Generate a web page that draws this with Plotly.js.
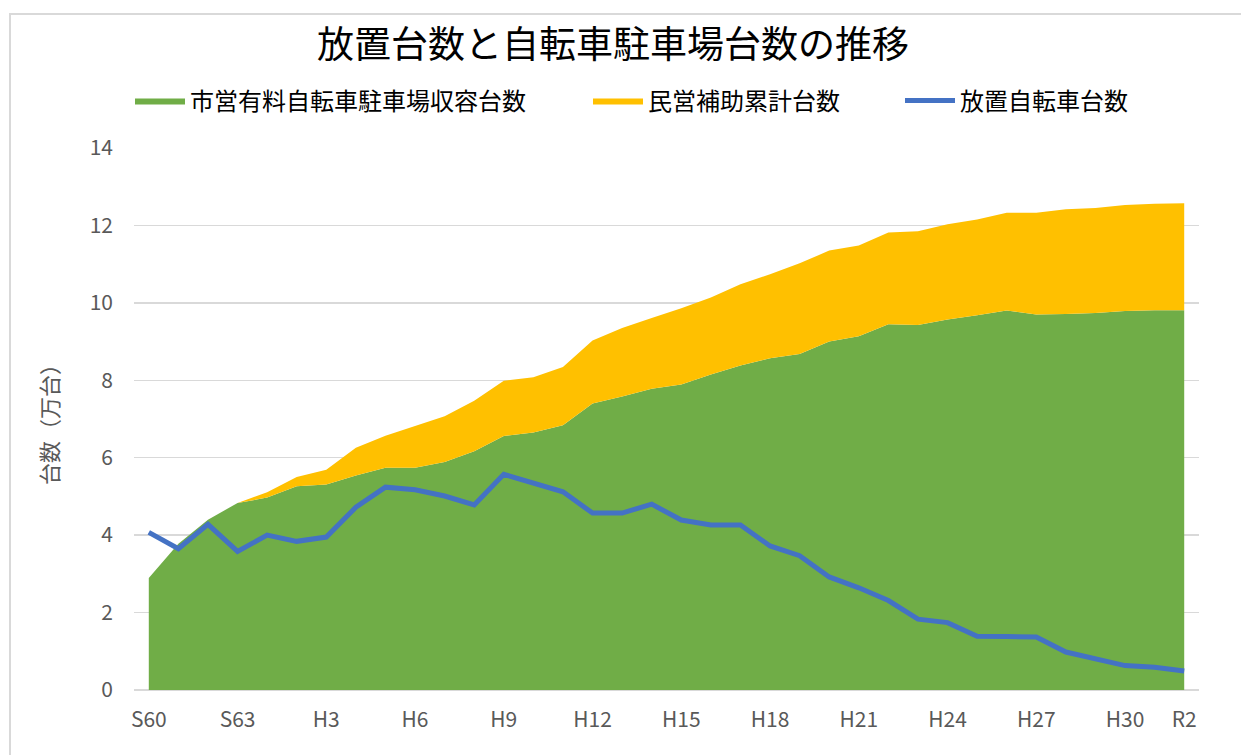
<!DOCTYPE html>
<html>
<head>
<meta charset="utf-8">
<script src="https://cdn.plot.ly/plotly-3.0.1.min.js"></script>
<style>
  html, body { margin: 0; padding: 0; background: #ffffff; overflow: hidden; }
  #frame { position: absolute; left: 9px; top: 13px; width: 1300px; height: 800px;
           border-left: 2px solid #d9d9d9; border-top: 2px solid #d9d9d9; }
  #chart { position: absolute; left: 0; top: 0; width: 1241px; height: 755px; }
</style>
</head>
<body>
<div id="frame"></div>
<div id="chart"></div>
<script>
// Fiscal years S60 (1985) .. R2 (2020)
const years = ['S60','S61','S62','S63',
  'H1','H2','H3','H4','H5','H6','H7','H8','H9','H10',
  'H11','H12','H13','H14','H15','H16','H17','H18','H19','H20',
  'H21','H22','H23','H24','H25','H26','H27','H28','H29','H30',
  'R1','R2'];

// 市営有料自転車駐車場収容台数 (万台)
const municipal = [2.89, 3.78, 4.40, 4.83,
  4.97, 5.26, 5.31, 5.54, 5.74, 5.74, 5.89, 6.17, 6.56, 6.65,
  6.84, 7.40, 7.58, 7.78, 7.89, 8.15, 8.38, 8.57, 8.68, 9.00,
  9.14, 9.45, 9.43, 9.57, 9.68, 9.80, 9.70, 9.71, 9.74, 9.79,
  9.81, 9.81];

// 民営補助累計台数 (万台)
const privateAid = [0, 0, 0, 0,
  0.14, 0.24, 0.38, 0.72, 0.83, 1.09, 1.18, 1.30, 1.43, 1.43,
  1.50, 1.63, 1.77, 1.83, 1.97, 1.99, 2.10, 2.17, 2.34, 2.35,
  2.34, 2.37, 2.42, 2.46, 2.47, 2.53, 2.63, 2.71, 2.71, 2.74,
  2.75, 2.76];

// 放置自転車台数 (万台)
const abandoned = [4.07, 3.65, 4.28, 3.58,
  4.00, 3.84, 3.95, 4.72, 5.24, 5.17, 5.01, 4.78, 5.57, 5.34,
  5.12, 4.57, 4.57, 4.80, 4.39, 4.26, 4.26, 3.72, 3.47, 2.92,
  2.64, 2.31, 1.83, 1.74, 1.39, 1.38, 1.37, 0.98, 0.79, 0.63,
  0.59, 0.49];

const tickLabels = ['S60','S63','H3','H6','H9','H12','H15','H18','H21','H24','H27','H30','R2'];

const FONT = '"Noto Sans CJK JP", "Noto Sans", sans-serif';

const traces = [
  {
    x: years, y: municipal, name: '市営有料自転車駐車場収容台数',
    type: 'scatter', mode: 'lines', stackgroup: 'cap',
    line: {width: 0, color: '#70AD47'}, fillcolor: '#70AD47',
    legend: 'legend'
  },
  {
    x: years, y: privateAid, name: '民営補助累計台数',
    type: 'scatter', mode: 'lines', stackgroup: 'cap',
    line: {width: 0, color: '#FFC000'}, fillcolor: '#FFC000',
    legend: 'legend2'
  },
  {
    x: years, y: abandoned, name: '放置自転車台数',
    type: 'scatter', mode: 'lines',
    line: {width: 5, color: '#4472C4'},
    legend: 'legend3'
  }
];

const legendBase = {
  orientation: 'h', xref: 'paper', yref: 'container',
  yanchor: 'middle', y: 1 - 101/755, xanchor: 'left',
  font: {family: FONT, size: 24, color: '#000000'},
  bgcolor: 'rgba(0,0,0,0)', itemwidth: 50, tracegroupgap: 0
};
const px2paper = p => (p - 134) / 1065;

const layout = {
  width: 1241, height: 755,
  paper_bgcolor: 'rgba(0,0,0,0)', plot_bgcolor: 'rgba(0,0,0,0)',
  margin: {l: 134, r: 42, t: 148, b: 65, pad: 0},
  title: {
    text: '放置台数と自転車駐車場台数の推移',
    font: {family: FONT, size: 37, color: '#000000'},
    x: 613/1241, xanchor: 'center', xref: 'container',
    y: 1 - 45/755, yanchor: 'middle', yref: 'container'
  },
  showlegend: true,
  legend: Object.assign({}, legendBase, {x: px2paper(130)}),
  legend2: Object.assign({}, legendBase, {x: px2paper(588)}),
  legend3: Object.assign({}, legendBase, {x: px2paper(900)}),
  xaxis: {
    type: 'category', range: [-0.5, 35.5],
    tickmode: 'array', tickvals: tickLabels, ticktext: tickLabels,
    showgrid: false, showline: false, zeroline: false, ticks: '',
    ticklabelstandoff: 15,
    tickfont: {family: FONT, size: 21, color: '#595959'}
  },
  yaxis: {
    range: [0, 14], dtick: 2, tick0: 0,
    showgrid: true, gridcolor: '#d9d9d9', gridwidth: 1.3,
    zeroline: true, zerolinecolor: '#d9d9d9', zerolinewidth: 2.5,
    showline: false, ticks: '', ticklabelstandoff: 20,
    tickfont: {family: FONT, size: 21, color: '#595959'},
    title: {
      text: '台数（万台）', standoff: 24,
      font: {family: FONT, size: 22, color: '#595959'}
    }
  },
  hovermode: false
};

Plotly.newPlot('chart', traces, layout, {staticPlot: true, displayModeBar: false});
</script>
</body>
</html>
